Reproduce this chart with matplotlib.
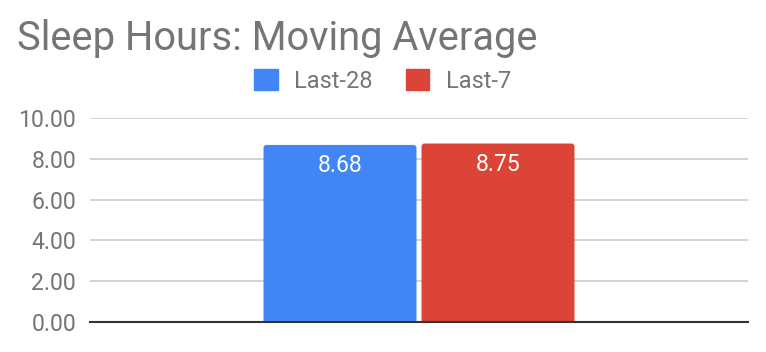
import matplotlib.pyplot as plt
from matplotlib.patches import FancyBboxPatch

plt.rcParams['font.family'] = ['Roboto', 'DejaVu Sans']

# data
series = ['Last-28', 'Last-7']
values = [8.68, 8.75]
colors = ['#4285F4', '#DB4437']
yticks = [0, 2, 4, 6, 8, 10]

fig = plt.figure(figsize=(7.66, 3.52), dpi=100)
ax = fig.add_axes([90 / 766, 1 - 322 / 352, 658 / 766, 204 / 352])

width = 0.2325
gap = 0.0076
offsets = [-(width + gap) / 2, (width + gap) / 2]
for off, v, c, name in zip(offsets, values, colors, series):
    bc = ax.bar(off, v, width=width, color=c, label=name, zorder=3)
    # swap the plain rectangle for one with slightly rounded corners
    r = bc.patches[0]
    r.set_visible(False)
    ax.add_patch(FancyBboxPatch((r.get_x(), -0.5), r.get_width(), v + 0.5,
                                boxstyle="round,pad=0,rounding_size=0.0046",
                                mutation_aspect=32.3, facecolor=c,
                                edgecolor='none', zorder=3))
    ax.text(off, v - 1.33, f"{v:.2f}", ha='center', va='baseline', color='white',
            fontsize=16.6, zorder=4)

ax.set_xlim(-0.5, 0.5)
ax.set_ylim(0, 10)
ax.set_yticks(yticks)
ax.set_yticklabels([f"{t:.2f}" for t in yticks])
ax.set_xticks([])
ax.tick_params(axis='y', length=0, pad=10, labelsize=16.6, labelcolor='#757575')
ax.grid(axis='y', color='#cccccc', linewidth=1.2, zorder=0)
for s in ['top', 'right', 'left']:
    ax.spines[s].set_visible(False)
ax.spines['bottom'].set_color('#333333')
ax.spines['bottom'].set_linewidth(1.5)
ax.spines['bottom'].set_zorder(5)

fig.text(17 / 766, 1 - 50 / 352, "Sleep Hours: Moving Average", fontsize=28.7,
         color='#757575', va='baseline', ha='left')

handles = [plt.Rectangle((0, 0), 1, 1, color=c) for c in colors]
fig.legend(handles, series, loc='center', bbox_to_anchor=(382.5 / 766, 1 - 81 / 352),
           ncol=2, frameon=False, fontsize=17, labelcolor='#757575',
           handlelength=1.0, handleheight=1.0, handletextpad=0.7,
           columnspacing=1.4, borderpad=0, borderaxespad=0)

fig.savefig("out.png", dpi=100)
